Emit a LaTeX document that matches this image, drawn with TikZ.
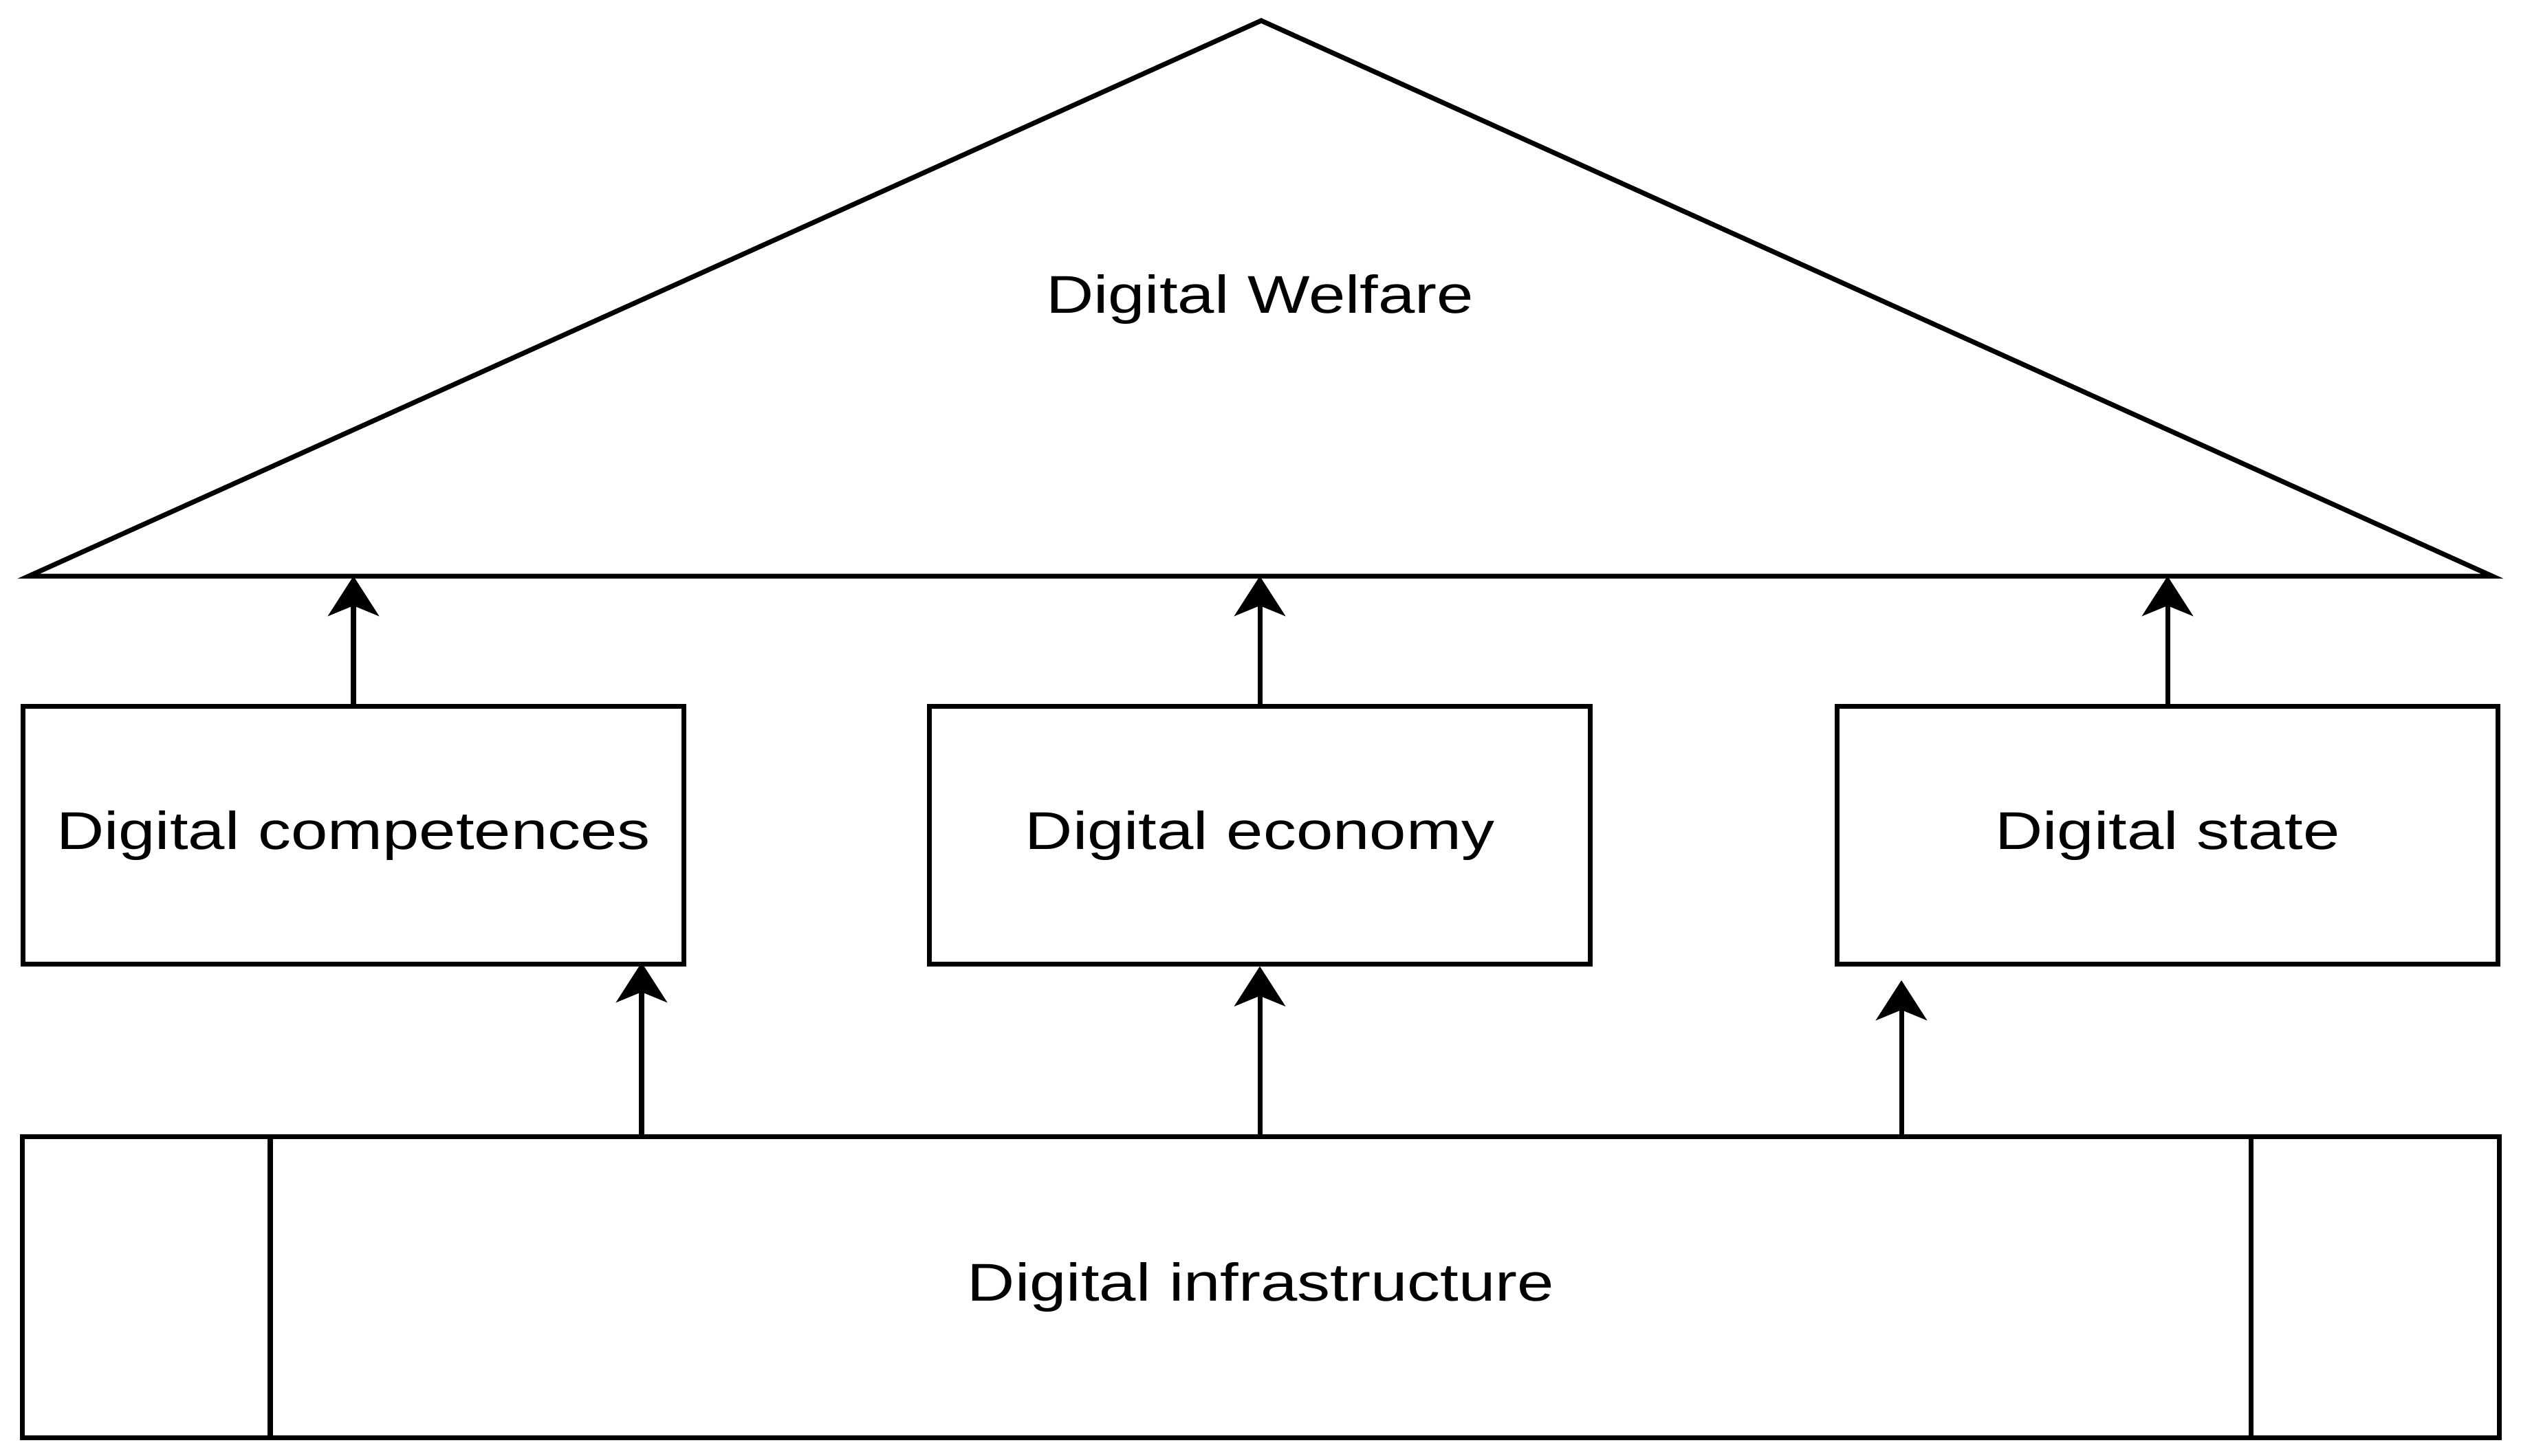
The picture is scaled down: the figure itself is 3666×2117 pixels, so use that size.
\documentclass[tikz,border=0pt]{standalone}
\usepackage{fontspec}
\setmainfont{Liberation Sans}[FakeStretch=1.24]
\usetikzlibrary{arrows.meta,calc}
\tikzset{
  box/.style={draw, line width=2pt, minimum width=9.6cm, minimum height=3.74cm, inner sep=0pt, font=\fontsize{22}{26}\selectfont},
  lbl/.style={inner sep=0pt, font=\fontsize{22}{26}\selectfont},
  arr/.style={line width=2pt, -{Stealth[length=0.58cm, width=0.74cm, inset=0.15cm]}},
  edge/.style={line width=2pt, line join=miter}
}
\begin{document}
\begin{tikzpicture}[x=0.01cm, y=-0.01cm]
\useasboundingbox (0,0) rectangle (3666,2117);
% roof
\coordinate (apex) at (1834,30);
\coordinate (baseL) at (42,838);
\coordinate (baseR) at (3624,838);
\draw[edge] (baseL) -- (apex) -- (baseR) -- cycle;
\node[lbl, anchor=base] (welfare) at (1832,455) {Digital Welfare};
% pillars
\node[box] (comp) at (514,1215) {Digital competences};
\node[box] (econ) at (1832,1215) {Digital economy};
\node[box] (state) at (3152,1215) {Digital state};
% foundation
\node[box, minimum width=35.99cm, minimum height=4.37cm] (infra) at (1833.5,1872.5) {};
\node[lbl] (infratext) at (1833.5,1872) {Digital infrastructure};
\draw[edge] (infra.north -| 393,0) -- (infra.south -| 393,0);
\draw[edge] (infra.north -| 3273,0) -- (infra.south -| 3273,0);
% arrows to roof
\draw[arr] (comp.north) -- (comp.north |- baseL);
\draw[arr] (econ.north) -- (econ.north |- baseL);
\draw[arr] (state.north) -- (state.north |- baseL);
% arrows from foundation
\coordinate (t1) at (933,1400);
\coordinate (t3) at (2765,1426);
\draw[arr] (infra.north -| t1) -- (t1);
\draw[arr] (infra.north -| econ.south) -- (econ.south);
\draw[arr] (infra.north -| t3) -- (t3);
\end{tikzpicture}
\end{document}
